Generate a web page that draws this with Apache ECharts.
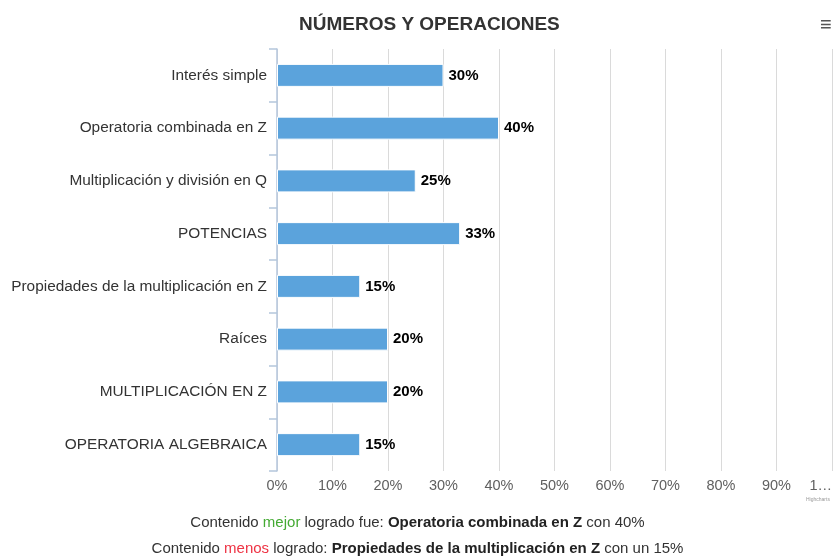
<!DOCTYPE html>
<html>
<head>
<meta charset="utf-8">
<script src="https://cdn.jsdelivr.net/npm/echarts@6/dist/echarts.min.js"></script>
<style>
  html, body { margin: 0; padding: 0; background: #fff; }
  #chart { width: 835px; height: 557px; }
</style>
</head>
<body>
<div id="chart"></div>
<script>
// Topics and achievement percentages, top to bottom
const categories = [
  'Interés simple',
  'Operatoria combinada en Z',
  'Multiplicación y división en Q',
  'POTENCIAS',
  'Propiedades de la multiplicación en Z',
  'Raíces',
  'MULTIPLICACIÓN EN Z',
  'OPERATORIA ALGEBRAICA'
];
const values = [30, 40, 25, 33, 15, 20, 20, 15];
const xTicks = [0, 10, 20, 30, 40, 50, 60, 70, 80, 90, 100];

const chart = echarts.init(document.getElementById('chart'));
const font = 'Liberation Sans, Arial, sans-serif';

chart.setOption({
  animation: false,
  title: {
    text: 'NÚMEROS Y OPERACIONES',
    left: 294,
    top: 10,
    textStyle: { fontFamily: font, fontSize: 19, fontWeight: 'bold', color: '#333333' }
  },
  grid: { left: 277, right: 3, top: 49, bottom: 86, containLabel: false, outerBoundsMode: 'none' },
  xAxis: {
    type: 'value',
    min: xTicks[0],
    max: xTicks[xTicks.length - 1],
    interval: 10,
    axisLine: { show: false },
    axisTick: { show: false },
    splitLine: { show: true, lineStyle: { color: '#dadada', width: 1 } },
    axisLabel: {
      fontFamily: font, fontSize: 14.5, color: '#606060', margin: 7,
      alignMaxLabel: 'right',
      formatter: v => v === 100 ? '1…' : v + '%'
    }
  },
  yAxis: {
    type: 'category',
    inverse: true,
    data: categories,
    axisLine: { show: true, lineStyle: { color: '#b4c6dc', width: 1.5 } },
    axisTick: { show: true, length: 8, lineStyle: { color: '#b4c6dc', width: 1.5 } },
    axisLabel: { fontFamily: font, fontSize: 15.4, color: '#333333', margin: 10 }
  },
  series: [{
    type: 'bar',
    data: values,
    barWidth: 23,
    itemStyle: { color: '#5ba3dc', borderColor: '#ffffff', borderWidth: 1 },
    label: {
      show: true,
      position: 'right',
      distance: 5,
      formatter: p => p.value + '%',
      fontFamily: font, fontSize: 15, fontWeight: 'bold', color: '#000000',
      textBorderColor: '#ffffff', textBorderWidth: 2
    }
  }],
  graphic: [
    {
      type: 'text', left: 820, top: 15,
      style: { text: '≡', fontSize: 20, fill: '#555555', fontFamily: font }
    },
    {
      type: 'text', left: 806, top: 497,
      style: { text: 'Highcharts', fontSize: 5, fill: '#999999', fontFamily: font }
    },
    {
      type: 'text', left: 'center', top: 515,
      style: {
        fontFamily: font, fontSize: 15,
        text: '{n|Contenido }{g|mejor}{n| logrado fue: }{b|Operatoria combinada en Z}{n| con 40%}',
        rich: {
          n: { fill: '#333333', fontSize: 15, fontFamily: font },
          g: { fill: '#44aa33', fontSize: 15, fontFamily: font },
          b: { fill: '#222222', fontSize: 15, fontWeight: 'bold', fontFamily: font }
        }
      }
    },
    {
      type: 'text', left: 'center', top: 541,
      style: {
        fontFamily: font, fontSize: 15,
        text: '{n|Contenido }{r|menos}{n| logrado: }{b|Propiedades de la multiplicación en Z}{n| con un 15%}',
        rich: {
          n: { fill: '#333333', fontSize: 15, fontFamily: font },
          r: { fill: '#ee3344', fontSize: 15, fontFamily: font },
          b: { fill: '#222222', fontSize: 15, fontWeight: 'bold', fontFamily: font }
        }
      }
    }
  ]
});
</script>
</body>
</html>
